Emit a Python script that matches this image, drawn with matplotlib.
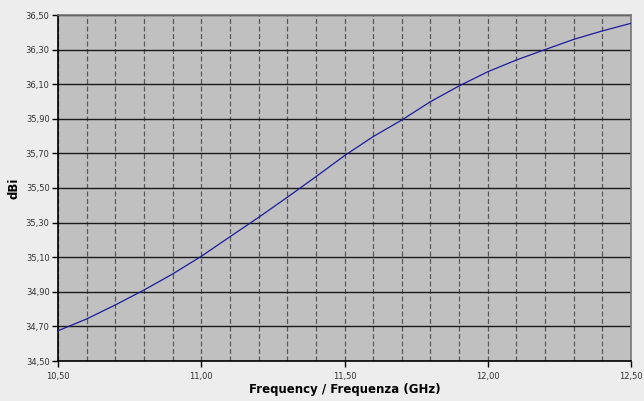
import matplotlib.pyplot as plt
import numpy as np
from matplotlib.ticker import MultipleLocator, FuncFormatter

# frequenza (GHz) e guadagno (dBi)
freq = [10.5, 10.6, 10.7, 10.8, 10.9, 11.0, 11.1, 11.2, 11.3, 11.4, 11.5,
        11.6, 11.7, 11.8, 11.9, 12.0, 12.1, 12.2, 12.3, 12.4, 12.5]
gain = [34.675, 34.743, 34.824, 34.910, 35.003, 35.105, 35.218, 35.330,
        35.446, 35.565, 35.687, 35.797, 35.893, 35.999, 36.090, 36.172,
        36.240, 36.300, 36.359, 36.408, 36.452]

fig = plt.figure(figsize=(6.44, 4.01), dpi=100, facecolor='#ededed')
ax = fig.add_axes([58/644, 40/401, 573/644, 346/401])
ax.set_facecolor('#c0c0c0')

ax.plot(freq, gain, color='#1c1c9c', lw=0.9, zorder=3)

ax.set_xlim(10.5, 12.5)
ax.set_ylim(34.5, 36.5)
ax.xaxis.set_major_locator(MultipleLocator(0.5))
ax.xaxis.set_minor_locator(MultipleLocator(0.1))
ax.yaxis.set_major_locator(MultipleLocator(0.2, offset=0.1))
fmt = FuncFormatter(lambda v, p: ('%.2f' % v).replace('.', ','))
ax.xaxis.set_major_formatter(fmt)
ax.yaxis.set_major_formatter(fmt)

# griglia
ax.grid(axis='y', which='major', color='#1a1a1a', lw=1.0, ls='-')
ax.grid(axis='x', which='minor', color='#5a5a5a', lw=0.9, ls=(0, (4, 2)))
ax.grid(axis='x', which='major', color='#5a5a5a', lw=0.9, ls=(0, (4, 2)))

ax.tick_params(axis='both', which='major', labelsize=6, length=4, width=1,
               direction='out', colors='black')
ax.tick_params(axis='x', which='minor', length=0)
ax.tick_params(axis='x', pad=4)
ax.tick_params(axis='y', pad=2)
for lab in ax.get_xticklabels() + ax.get_yticklabels():
    lab.set_color('#333333')

for s in ['left', 'bottom']:
    ax.spines[s].set_color('black')
    ax.spines[s].set_linewidth(1.2)
for s in ['top', 'right']:
    ax.spines[s].set_color('#777777')
    ax.spines[s].set_linewidth(1.2)

ax.set_xlabel('Frequency / Frequenza (GHz)', fontsize=8.5, fontweight='bold', labelpad=1)
ax.set_ylabel('dBi', fontsize=8.5, fontweight='bold', labelpad=4)

plt.savefig('out.png', dpi=100, facecolor=fig.get_facecolor())
